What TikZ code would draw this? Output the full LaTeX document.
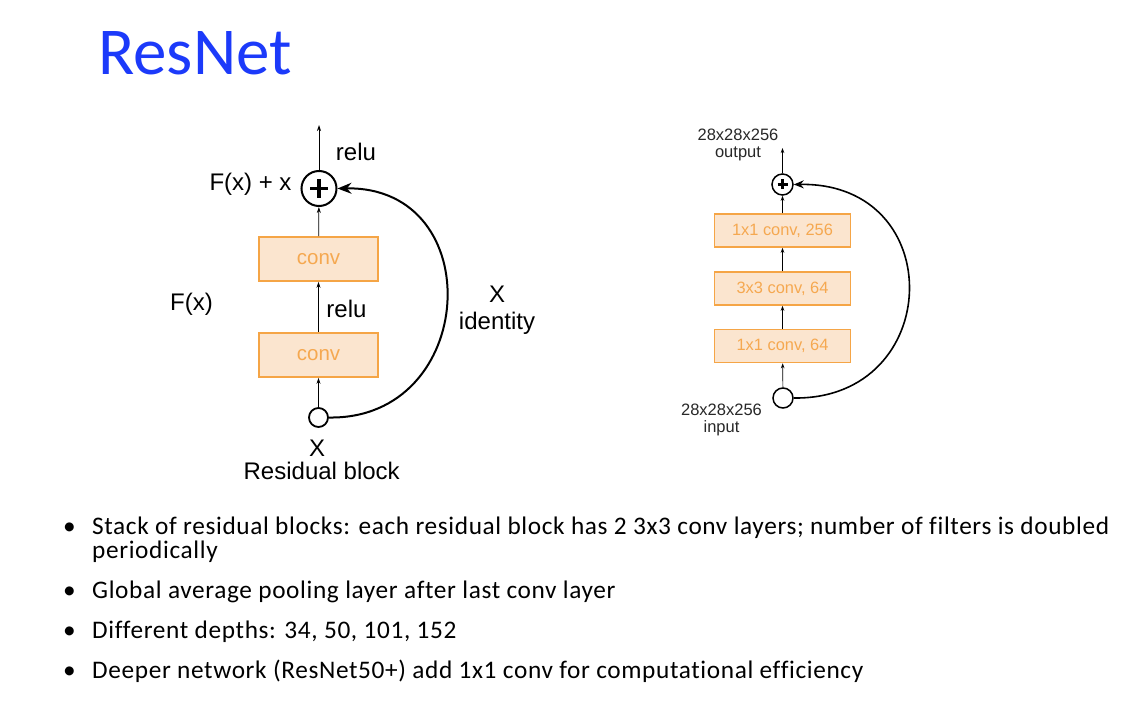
\documentclass[tikz,border=0pt]{standalone}
\usepackage{fontspec}
\setmainfont{Carlito}
\newfontfamily\helv{Liberation Sans}
\newfontfamily\bodyfont[LetterSpace=2.5,Ligatures=NoCommon]{Carlito}
\usetikzlibrary{arrows.meta,calc}
\definecolor{titleblue}{RGB}{28,58,250}
\definecolor{boxfill}{RGB}{251,229,207}
\definecolor{boxline}{RGB}{245,165,70}
\definecolor{boxtext}{RGB}{245,168,80}
\definecolor{dimtext}{RGB}{40,40,40}
\tikzset{
  lbl/.style={font=\helv\fontsize{24}{26}\selectfont, inner sep=0pt},
  slbl/.style={font=\helv\fontsize{16.5}{20}\selectfont, inner sep=0pt, text=dimtext},
  convbox/.style={draw=boxline, fill=boxfill, line width=1.8pt, minimum width=119pt, minimum height=44pt, inner sep=0pt, text=boxtext, font=\helv\fontsize{20.5}{22}\selectfont},
  sconvbox/.style={draw=boxline, fill=boxfill, line width=1.5pt, minimum width=136pt, minimum height=33pt, inner sep=0pt, text=boxtext, font=\helv\fontsize{16.4}{18}\selectfont},
  flow/.style={line width=0.8pt, -{Stealth[length=6pt,width=4pt]}},
  sflow/.style={line width=0.7pt, -{Stealth[length=5pt,width=3.5pt]}},
  skip/.style={line width=2pt, -{Stealth[length=14pt,width=11pt]}},
  sskip/.style={line width=1.6pt, -{Stealth[length=10pt,width=8pt]}},
  bul/.style={font=\bodyfont\fontsize{25.3}{28}\selectfont, inner sep=0pt, anchor=base west},
}
\begin{document}
\begin{tikzpicture}[x=1pt, y=-1pt]
\useasboundingbox (0,0) rectangle (1126,714);
\fill[white] (0,0) rectangle (1126,714);

% title
\node[anchor=base west, inner sep=0pt, text=titleblue, font=\fontsize{67}{72}\selectfont] (title) at (98,75) {ResNet};

% ---- residual block (left) ----
\node[convbox] (c2) at (318.5,259) {conv};
\node[convbox] (c1) at (318.5,355) {conv};
\node[circle, draw, line width=2pt, minimum size=35pt, inner sep=0pt] (sum) at (319,188.5) {};
\draw[line width=3.8pt] ($(sum.center)+(-9,0)$) -- ($(sum.center)+(9,0)$);
\draw[line width=3.8pt] ($(sum.center)+(0,-9)$) -- ($(sum.center)+(0,9)$);
\node[circle, draw, line width=1.8pt, minimum size=19pt, inner sep=0pt] (xin) at (318.5,417.5) {};
\coordinate (out) at (319,125);

\draw[flow] (xin) -- (c1);
\draw[flow] (c1) -- (c2);
\draw[flow] (c2) -- (sum);
\draw[flow] (sum) -- (out);
\draw[skip] (xin.east) .. controls (478,420) and (490,186) .. (sum.east);

\node[lbl] (relutop) at (356,152) {relu};
\node[lbl] (relumid) at (346.5,309) {relu};
\node[lbl] (fxx) at (250.5,184) {F(x) + x};
\node[lbl] (fx) at (191.5,304) {F(x)};
\node[lbl] (xid) at (497,294) {X};
\node[lbl] (ident) at (497,323) {identity};
\node[lbl] (xlab) at (317,448) {X};
\node[lbl] (rblock) at (321.7,471) {Residual block};

% ---- bottleneck block (right) ----
\node[sconvbox] (b3) at (782.5,230.5) {1x1 conv, 256};
\node[sconvbox] (b2) at (782.5,288.5) {3x3 conv, 64};
\node[sconvbox] (b1) at (782.5,346) {1x1 conv, 64};
\node[circle, draw, line width=1.5pt, minimum size=21pt, inner sep=0pt] (ssum) at (782.5,184.5) {};
\draw[line width=2.4pt] ($(ssum.center)+(-5,0)$) -- ($(ssum.center)+(5,0)$);
\draw[line width=2.4pt] ($(ssum.center)+(0,-5)$) -- ($(ssum.center)+(0,5)$);
\node[circle, draw, line width=1.5pt, minimum size=20pt, inner sep=0pt] (sin) at (783,398) {};
\coordinate (sout) at (782.5,148);

\draw[sflow] (sin) -- (b1);
\draw[sflow] (b1) -- (b2);
\draw[sflow] (b2) -- (b3);
\draw[sflow] (b3) -- (ssum);
\draw[sflow] (ssum) -- (sout);
\draw[sskip] (sin.east) .. controls (944,400) and (950,182) .. (ssum.east);

\node[slbl] (outnum) at (738,135) {28x28x256};
\node[slbl] (outlab) at (738,154) {output};
\node[slbl] (innum) at (721.5,409.5) {28x28x256};
\node[slbl] (inlab) at (721.5,428) {input};

% ---- bullet list ----
\node[bul] (d1) at (63,534) {•};
\node[bul] (t1) at (92,534) {Stack of residual blocks: each residual block has 2 3x3 conv layers; number of filters is doubled};
\node[bul] (t1b) at (92,558) {periodically};
\node[bul] (d2) at (63,598) {•};
\node[bul] (t2) at (92,598) {Global average pooling layer after last conv layer};
\node[bul] (d3) at (63,638) {•};
\node[bul] (t3) at (92,638) {Different depths: 34, 50, 101, 152};
\node[bul] (d4) at (63,678) {•};
\node[bul] (t4) at (92,678) {Deeper network (ResNet50+) add 1x1 conv for computational efficiency};
\end{tikzpicture}
\end{document}
